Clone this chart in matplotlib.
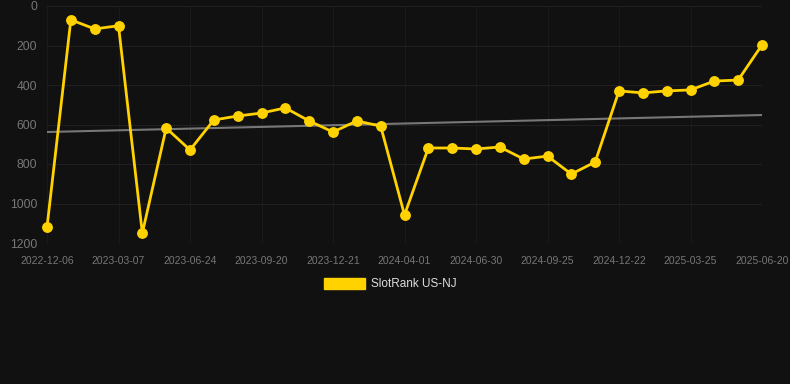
import matplotlib
matplotlib.use("Agg")
import matplotlib.pyplot as plt
from matplotlib.patches import Patch
import numpy as np

plt.rcParams['font.family'] = ['Liberation Sans', 'DejaVu Sans']

# rank values, one per period (evenly spaced on the chart)
ranks = [1120, 70, 116, 100, 1150, 618, 729, 577, 557, 542, 516, 582, 638, 582, 608,
         1058, 719, 719, 724, 714, 775, 760, 851, 790, 430, 440, 430, 425, 380, 375, 197]
tick_labels = ["2022-12-06", "2023-03-07", "2023-06-24", "2023-09-20", "2023-12-21",
               "2024-04-01", "2024-06-30", "2024-09-25", "2024-12-22", "2025-03-25",
               "2025-06-20"]
trend = [638, 552]  # start / end of the trend line
y_ticks = [0, 200, 400, 600, 800, 1000, 1200]

bg = "#111111"
gold = "#FFD200"

W, H = 790, 384
fig = plt.figure(figsize=(W / 100, H / 100), dpi=100, facecolor=bg)
ax = fig.add_axes([47 / W, 1 - 243 / H, (762 - 47) / W, (243 - 6) / H])
ax.set_facecolor(bg)

x = np.arange(len(ranks))
ax.plot([x[0], x[-1]], trend, color="#777777", lw=1.5, zorder=2)
ax.plot(x, ranks, color=gold, lw=2.0, marker="o", ms=6.8, zorder=3,
        solid_joinstyle="round", clip_on=False)

ax.set_xlim(x[0], x[-1])
ax.set_ylim(1200, 0)
ax.set_xticks(x[::3])
ax.set_xticklabels(tick_labels)
ax.set_yticks(y_ticks)

ax.yaxis.grid(True, color="#202020", lw=0.8)
ax.xaxis.grid(True, color="#1a1a1a", lw=0.8)
ax.axhline(1200, color="#2a2a2a", lw=0.8, zorder=1)
ax.set_axisbelow(True)
for s in ax.spines.values():
    s.set_visible(False)
ax.tick_params(axis="x", colors="#777777", labelsize=7.5, length=0, pad=9)
ax.tick_params(axis="y", colors="#777777", labelsize=8.7, length=0, pad=7)

handle = Patch(facecolor=gold, edgecolor=gold)
leg = fig.legend([handle], ["SlotRank US-NJ"], loc="center",
                 bbox_to_anchor=(390 / W, 1 - 284 / H), frameon=False,
                 handlelength=3.5, handleheight=1.1, handletextpad=0.5,
                 fontsize=8.5)
for t in leg.get_texts():
    t.set_color("#dddddd")

fig.savefig("out.png", dpi=100, facecolor=bg)
